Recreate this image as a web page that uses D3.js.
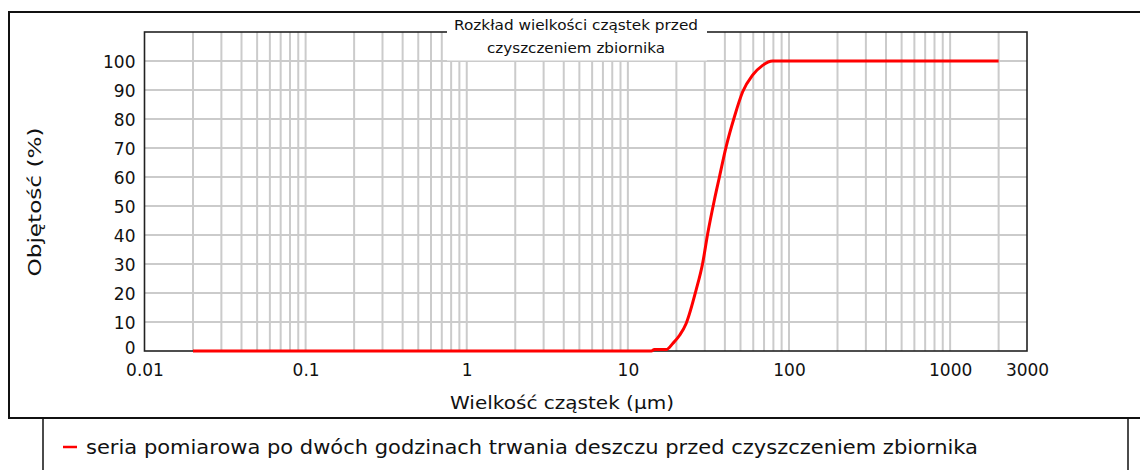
<!DOCTYPE html>
<html>
<head>
<meta charset="utf-8">
<script src="https://cdn.jsdelivr.net/npm/d3@7"></script>
<style>
  body { margin: 0; background: #fff; }
  text { font-family: "DejaVu Sans", Verdana, sans-serif; fill: #111; }
</style>
</head>
<body>
<div id="chart"></div>
<script>
// particle size (µm) and cumulative volume (%)
var sizes   = [0.02, 14, 14.6, 17.3, 19, 21, 23, 26.5, 29.1, 31.3, 34.4, 37, 40.7, 45.8, 51.5, 59.4, 68.6, 79, 2000];
var volumes = [0, 0, 0.5, 0.5, 2.6, 5.5, 9.5, 21, 30.2, 40.5, 52, 60, 70.4, 80.7, 89.3, 95.1, 98.5, 100, 100];

var xTicks = [0.01, 0.1, 1, 10, 100, 1000, 3000];
var yTicks = [0, 10, 20, 30, 40, 50, 60, 70, 80, 90, 100];

var titleLines = ["Rozkład wielkości cząstek przed", "czyszczeniem zbiornika"];
var xLabel = "Wielkość cząstek  (µm)";
var yLabel = "Objętość (%)";
var legendLabel = "seria pomiarowa po dwóch godzinach trwania deszczu przed czyszczeniem zbiornika";

var svgWidth = 1140, svgHeight = 470;
var margin = { top: 32, right: 113, bottom: 119, left: 144.5 };
var chartWidth = svgWidth - margin.left - margin.right;
var chartHeight = svgHeight - margin.top - margin.bottom;

var svg = d3.select("#chart").append("svg")
    .attr("width", svgWidth)
    .attr("height", svgHeight);

svg.append("rect").attr("width", svgWidth).attr("height", svgHeight).attr("fill", "#fff");

// outer frame + legend box
svg.append("path")
    .attr("d", "M1141,12 H9 V418 H1141")
    .attr("fill", "none").attr("stroke", "#111").attr("stroke-width", 2);
svg.append("path")
    .attr("d", "M43,471 V418 M1128,418 V471")
    .attr("fill", "none").attr("stroke", "#111").attr("stroke-width", 1.5);

var x = d3.scaleLog().domain([0.01, 3000]).range([0, chartWidth]);
var y = d3.scaleLinear().domain([0, 110]).range([chartHeight, 0]);

var g = svg.append("g").attr("transform", `translate(${margin.left}, ${margin.top})`);

// vertical grid: 1..9 in every decade
var gridX = [];
[0.01, 0.1, 1, 10, 100, 1000].forEach(d => {
  for (var k = 1; k <= 9; k++) {
    var v = d * k;
    if (v > 0.01 && v < 3000) gridX.push(v);
  }
});

g.selectAll(".vgrid").data(gridX).enter().append("line")
    .attr("x1", d => x(d)).attr("x2", d => x(d))
    .attr("y1", 0).attr("y2", chartHeight)
    .attr("stroke", "#cbcbcb").attr("stroke-width", 2);

g.selectAll(".hgrid").data(yTicks.filter(d => d > 0)).enter().append("line")
    .attr("x1", 0).attr("x2", chartWidth)
    .attr("y1", d => y(d)).attr("y2", d => y(d))
    .attr("stroke", "#cbcbcb").attr("stroke-width", 2);

// plot frame
g.append("rect")
    .attr("width", chartWidth).attr("height", chartHeight)
    .attr("fill", "none").attr("stroke", "#222").attr("stroke-width", 1.6);

// title with white backing
g.append("rect")
    .attr("x", 447 - margin.left).attr("y", -5)
    .attr("width", 260).attr("height", 33.5)
    .attr("fill", "#fff");
g.selectAll(".title").data(titleLines).enter().append("text")
    .attr("x", 576 - margin.left)
    .attr("y", (d, i) => -2 + i * 23)
    .attr("text-anchor", "middle")
    .attr("font-size", 14)
    .attr("textLength", (d, i) => i === 0 ? 244 : 178)
    .attr("lengthAdjust", "spacingAndGlyphs")
    .text(d => d);

// curve
var line = d3.line()
    .x((d, i) => x(sizes[i]))
    .y((d, i) => y(volumes[i]))
    .curve(d3.curveMonotoneX);

g.append("path")
    .datum(volumes)
    .attr("d", line)
    .attr("fill", "none")
    .attr("stroke", "#ff0000")
    .attr("stroke-width", 3);

// axes (labels only)
var xAxis = d3.axisBottom(x).tickValues(xTicks).tickFormat(d => String(d)).tickSize(0).tickPadding(13);
var yAxis = d3.axisLeft(y).tickValues(yTicks).tickFormat(d3.format("d")).tickSize(0).tickPadding(9);

var xg = g.append("g").attr("transform", `translate(0, ${chartHeight})`).call(xAxis);
var yg = g.append("g").call(yAxis);
[xg, yg].forEach(a => {
  a.select(".domain").remove();
  a.selectAll("text").attr("font-size", 17).attr("font-family", "DejaVu Sans").attr("fill", "#111");
});
yg.selectAll("text").attr("dy", "0.4em");
// the "0" sits a little higher, clear of "0.01"
yg.selectAll(".tick").filter(d => d === 0).select("text").attr("dy", "0.15em");

// axis titles
svg.append("text")
    .attr("x", 562).attr("y", 409)
    .attr("text-anchor", "middle")
    .attr("font-size", 17)
    .attr("textLength", 224).attr("lengthAdjust", "spacingAndGlyphs")
    .text(xLabel);

svg.append("text")
    .attr("transform", "translate(41, 202) rotate(-90)")
    .attr("text-anchor", "middle")
    .attr("font-size", 17)
    .attr("textLength", 149).attr("lengthAdjust", "spacingAndGlyphs")
    .text(yLabel);

// legend
svg.append("line")
    .attr("x1", 63).attr("x2", 77).attr("y1", 447).attr("y2", 447)
    .attr("stroke", "#ff0000").attr("stroke-width", 2.5);
svg.append("text")
    .attr("x", 86).attr("y", 454)
    .attr("font-size", 19)
    .attr("textLength", 892).attr("lengthAdjust", "spacingAndGlyphs")
    .text(legendLabel);
</script>
</body>
</html>
